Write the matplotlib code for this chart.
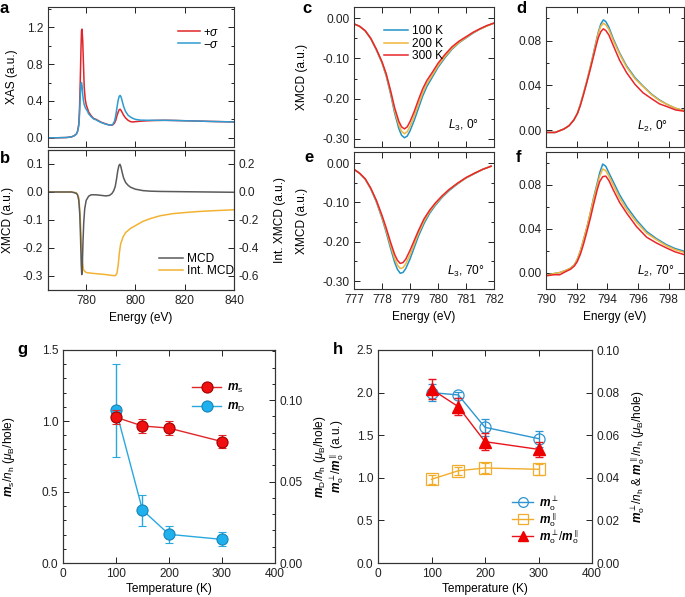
import matplotlib
matplotlib.use("Agg")
import matplotlib.pyplot as plt
from matplotlib.ticker import MultipleLocator, FormatStrFormatter
from matplotlib.lines import Line2D

plt.rcParams['font.family'] = ['Liberation Sans', 'DejaVu Sans']
plt.rcParams['mathtext.fontset'] = 'custom'
plt.rcParams['mathtext.rm'] = 'Liberation Sans'
plt.rcParams['mathtext.it'] = 'Liberation Sans:italic'
plt.rcParams['mathtext.bf'] = 'Liberation Sans:bold'
plt.rcParams['mathtext.bfit'] = 'Liberation Sans:italic:bold'
plt.rcParams['axes.unicode_minus'] = True

# ---------------- data ----------------
# panel a: XAS
E_a = [764.5, 768, 772, 774, 775, 776, 776.5, 777, 777.3, 777.6, 777.9, 778.1, 778.3, 778.6,
       778.9, 779.2, 779.6, 780, 780.5, 781, 782, 783, 784, 785, 786, 787, 788, 789, 790,
       790.8, 791.5, 792, 792.5, 793, 793.4, 793.8, 794.2, 794.7, 795.2, 796, 797, 798, 799,
       800, 802, 805, 808, 812, 816, 820, 825, 830, 835, 840]
xas_plus = [0.0, 0.0, 0.003, 0.01, 0.02, 0.04, 0.07, 0.15, 0.32, 0.62, 0.98, 1.16, 1.18, 1.05,
            0.80, 0.55, 0.42, 0.36, 0.32, 0.28, 0.24, 0.21, 0.20, 0.185, 0.17, 0.16, 0.15, 0.142, 0.137,
            0.14, 0.16, 0.19, 0.24, 0.28, 0.305, 0.31, 0.295, 0.27, 0.245, 0.215, 0.19, 0.175, 0.172,
            0.175, 0.18, 0.185, 0.188, 0.19, 0.188, 0.185, 0.182, 0.178, 0.175, 0.172]
xas_minus = [0.0, 0.0, 0.003, 0.01, 0.02, 0.04, 0.07, 0.13, 0.25, 0.45, 0.59, 0.60, 0.57, 0.47,
             0.40, 0.36, 0.33, 0.31, 0.29, 0.26, 0.23, 0.205, 0.195, 0.18, 0.167, 0.157, 0.148, 0.141, 0.137,
             0.145, 0.18, 0.24, 0.33, 0.41, 0.45, 0.46, 0.44, 0.39, 0.34, 0.285, 0.245, 0.225, 0.21,
             0.20, 0.192, 0.19, 0.19, 0.19, 0.188, 0.185, 0.182, 0.178, 0.175, 0.172]

# panel b: XMCD and integrated XMCD
E_b = [764.5, 770, 774, 775, 776, 776.5, 777, 777.4, 777.7, 778.0, 778.2, 778.4, 778.7, 779.0,
       779.4, 780, 781, 782, 784, 786, 788, 789.5, 790.5, 791.2, 791.8, 792.3, 792.8, 793.3,
       793.7, 794.1, 794.6, 795.2, 796, 797, 798, 800, 803, 806, 810, 820, 830, 840]
mcd = [0.0, 0.0, 0.0, -0.002, -0.005, -0.01, -0.03, -0.08, -0.16, -0.26, -0.295, -0.27, -0.18, -0.11,
       -0.06, -0.03, -0.015, -0.01, -0.01, -0.012, -0.014, -0.012, -0.005, 0.005, 0.02, 0.045, 0.075, 0.095,
       0.099, 0.09, 0.07, 0.05, 0.034, 0.024, 0.017, 0.01, 0.005, 0.003, 0.002, 0.001, 0.0, -0.001]
E_int = [764.5, 770, 774, 776, 777, 777.5, 778, 778.5, 779, 780, 782, 785, 788, 790, 791.5, 792,
         792.5, 793, 793.5, 794, 795, 796, 798, 800, 803, 806, 810, 815, 820, 825, 830, 840]
int_mcd = [0.0, 0.0, 0.0, -0.005, -0.04, -0.15, -0.35, -0.50, -0.56, -0.575, -0.58, -0.585, -0.59,
           -0.595, -0.598, -0.595, -0.58, -0.52, -0.43, -0.37, -0.32, -0.29, -0.26, -0.24, -0.21,
           -0.19, -0.17, -0.155, -0.147, -0.14, -0.135, -0.127]

temps_spec = ['100 K', '200 K', '300 K']

# panel c: L3, 0 deg
E_c = [777.0, 777.2, 777.4, 777.6, 777.8, 778.0, 778.15, 778.3, 778.45, 778.6, 778.7, 778.8,
       778.9, 779.0, 779.15, 779.3, 779.45, 779.6, 779.8, 780.0, 780.25, 780.5, 780.75, 781.0,
       781.25, 781.5, 781.75, 782.0]
c_100 = [-0.014, -0.020, -0.031, -0.051, -0.079, -0.111, -0.143, -0.186, -0.235, -0.274, -0.291,
         -0.297, -0.293, -0.280, -0.254, -0.224, -0.194, -0.170, -0.146, -0.122, -0.098, -0.077,
         -0.061, -0.049, -0.037, -0.027, -0.019, -0.012]
c_200 = [-0.014, -0.020, -0.031, -0.050, -0.078, -0.110, -0.141, -0.182, -0.229, -0.265, -0.281,
         -0.287, -0.282, -0.269, -0.243, -0.214, -0.186, -0.163, -0.141, -0.118, -0.095, -0.075,
         -0.060, -0.048, -0.036, -0.027, -0.019, -0.012]
c_300 = [-0.014, -0.020, -0.031, -0.050, -0.077, -0.108, -0.138, -0.178, -0.222, -0.256, -0.270,
         -0.275, -0.270, -0.257, -0.232, -0.203, -0.176, -0.155, -0.134, -0.112, -0.090, -0.071,
         -0.057, -0.046, -0.035, -0.026, -0.018, -0.012]

# panel e: L3, 70 deg
E_e = [777.0, 777.2, 777.4, 777.6, 777.8, 778.0, 778.15, 778.3, 778.45, 778.55, 778.65, 778.75,
       778.85, 779.0, 779.15, 779.3, 779.5, 779.7, 779.9, 780.15, 780.4, 780.7, 781.0, 781.3,
       781.6, 781.9]
e_100 = [-0.016, -0.026, -0.041, -0.066, -0.099, -0.140, -0.176, -0.215, -0.252, -0.270, -0.280,
         -0.278, -0.268, -0.244, -0.215, -0.186, -0.154, -0.128, -0.108, -0.087, -0.070, -0.053,
         -0.038, -0.027, -0.016, -0.008]
e_200 = [-0.016, -0.026, -0.041, -0.065, -0.097, -0.137, -0.171, -0.208, -0.243, -0.259, -0.268,
         -0.266, -0.256, -0.233, -0.206, -0.179, -0.148, -0.124, -0.105, -0.085, -0.068, -0.052,
         -0.038, -0.026, -0.016, -0.008]
e_300 = [-0.016, -0.026, -0.040, -0.064, -0.095, -0.133, -0.165, -0.200, -0.232, -0.247, -0.255,
         -0.253, -0.244, -0.222, -0.197, -0.172, -0.142, -0.120, -0.102, -0.083, -0.067, -0.051,
         -0.037, -0.026, -0.016, -0.008]

# panel d: L2, 0 deg
E_d = [790.0, 790.6, 791.16, 791.5, 791.81, 792.05, 792.24, 792.45, 792.67, 792.9, 793.1, 793.28,
       793.42, 793.58, 793.74, 793.9, 794.1, 794.39, 794.8, 795.25, 795.8, 796.32, 796.9, 797.4,
       797.9, 798.47, 799.0]
d_100 = [-0.002, -0.002, 0.001, 0.004, 0.009, 0.015, 0.023, 0.033, 0.044, 0.057, 0.069, 0.080,
         0.088, 0.095, 0.0985, 0.097, 0.092, 0.0815, 0.069, 0.0575, 0.047, 0.0395, 0.032, 0.027,
         0.023, 0.0195, 0.0175]
d_200 = [-0.002, -0.002, 0.001, 0.004, 0.009, 0.015, 0.023, 0.033, 0.044, 0.057, 0.068, 0.079,
         0.087, 0.093, 0.0955, 0.094, 0.090, 0.080, 0.068, 0.0565, 0.046, 0.039, 0.0315, 0.0265,
         0.023, 0.0195, 0.0175]
d_300 = [-0.002, -0.002, 0.001, 0.004, 0.009, 0.015, 0.022, 0.032, 0.043, 0.055, 0.066, 0.076,
         0.083, 0.088, 0.0905, 0.089, 0.085, 0.0755, 0.0625, 0.0515, 0.041, 0.0335, 0.028, 0.0235,
         0.021, 0.018, 0.017]

# panel f: L2, 70 deg
E_f = [790.0, 790.5, 790.9, 791.3, 791.6, 791.85, 792.04, 792.25, 792.47, 792.7, 792.9, 793.1,
       793.33, 793.5, 793.7, 793.9, 794.1, 794.4, 794.8, 795.27, 795.9, 796.56, 797.2, 797.85,
       798.4, 799.0]
f_100 = [-0.0025, -0.001, 0.000, 0.002, 0.004, 0.007, 0.012, 0.020, 0.031, 0.043, 0.055, 0.068,
         0.081, 0.091, 0.099, 0.097, 0.091, 0.0825, 0.071, 0.060, 0.048, 0.0375, 0.031, 0.0255,
         0.022, 0.0195]
f_200 = [-0.0025, -0.001, 0.000, 0.002, 0.004, 0.007, 0.012, 0.020, 0.031, 0.043, 0.055, 0.067,
         0.079, 0.088, 0.0945, 0.093, 0.088, 0.0795, 0.068, 0.0575, 0.046, 0.036, 0.030, 0.0245,
         0.021, 0.0185]
f_300 = [-0.003, -0.002, -0.002, 0.001, 0.003, 0.006, 0.010, 0.017, 0.027, 0.039, 0.050, 0.062,
         0.075, 0.083, 0.0875, 0.088, 0.084, 0.075, 0.064, 0.054, 0.042, 0.0323, 0.027, 0.0225,
         0.019, 0.0164]

# panel g
T = [100, 150, 200, 300]
ms = [1.026, 0.965, 0.950, 0.855]
ms_err = [0.05, 0.05, 0.05, 0.045]
mD = [0.0939, 0.0325, 0.0176, 0.0145]
mD_err = [0.0285, 0.0095, 0.0053, 0.0043]

# panel h
mo_perp = [0.0800, 0.0789, 0.0637, 0.0584]
mo_perp_err = [0.004, 0.0015, 0.0040, 0.0038]
mo_par = [0.0393, 0.0433, 0.0446, 0.0440]
mo_par_err = [0.002, 0.0018, 0.0025, 0.0026]
ratio = [2.04, 1.835, 1.424, 1.334]
ratio_err = [0.12, 0.10, 0.10, 0.09]

# ---------------- styling ----------------
RED = '#e0262a'
BLUE = '#2f9bd0'
C_BLUE = '#2193c6'
C_YEL = '#f0b43c'
C_RED = '#e8262b'
GRAY = '#5a5a5a'
ORANGE = '#f2b233'
FS = 8.6
W, H = 685, 597
fig = plt.figure(figsize=(W / 100, H / 100), dpi=100)


def axbox(x0, y0, x1, y1):
    return fig.add_axes([x0 / W, 1 - y1 / H, (x1 - x0) / W, (y1 - y0) / H])


def style(ax, top=True, right=True):
    ax.tick_params(which='both', direction='in', top=top, right=right, labelsize=FS,
                   width=0.7, colors='#222222')
    ax.tick_params(which='major', length=4)
    ax.tick_params(which='minor', length=2.5)
    for s in ax.spines.values():
        s.set_linewidth(0.8)
        s.set_color('#333333')


def plabel(x, y, t):
    fig.text(x / W, 1 - y / H, t, fontsize=12, fontweight='bold', va='top', ha='left')


# panel a
axa = axbox(48, 7, 234, 147)
axa.plot(E_a, xas_plus, color=RED, lw=1.1, label='+$\\sigma$')
axa.plot(E_a, xas_minus, color=BLUE, lw=1.1, label='−$\\sigma$')
axa.set_xlim(764.5, 840)
axa.set_ylim(-0.1, 1.42)
axa.xaxis.set_major_locator(MultipleLocator(20))
axa.yaxis.set_major_locator(MultipleLocator(0.4))
axa.yaxis.set_minor_locator(MultipleLocator(0.2))
axa.yaxis.set_major_formatter(FormatStrFormatter('%.1f'))
axa.set_xticklabels([])
style(axa)
axa.set_ylabel('XAS (a.u.)', fontsize=FS)
axa.yaxis.set_label_coords(-0.16, 0.5)
axa.legend(loc='upper left', bbox_to_anchor=(0.70, 0.86), frameon=False, fontsize=FS,
           handlelength=1.8, handletextpad=0.3, labelspacing=0.0, borderpad=0, borderaxespad=0)

# panel b
axb = axbox(48, 150, 234, 290)
l1, = axb.plot(E_b, mcd, color=GRAY, lw=1.1, label='MCD')
axb.set_xlim(764.5, 840)
axb.set_ylim(-0.35, 0.15)
axb.xaxis.set_major_locator(MultipleLocator(20))
axb.yaxis.set_major_locator(MultipleLocator(0.1))
axb.yaxis.set_major_formatter(FormatStrFormatter('%.1f'))
style(axb, right=False)
axb.set_ylabel('XMCD (a.u.)', fontsize=FS)
axb.yaxis.set_label_coords(-0.185, 0.5)
axb.set_xlabel('Energy (eV)', fontsize=FS, labelpad=4)
axb2 = axb.twinx()
l2, = axb2.plot(E_int, int_mcd, color=ORANGE, lw=1.1, label='Int. MCD')
axb2.set_ylim(-0.7, 0.3)
axb2.yaxis.set_major_locator(MultipleLocator(0.2))
axb2.yaxis.set_major_formatter(FormatStrFormatter('%.1f'))
style(axb2, top=False, right=True)
axb2.tick_params(left=False)
axb2.set_ylabel('Int. XMCD (a.u.)', fontsize=FS)
axb2.yaxis.set_label_coords(1.215, 0.5)
axb.set_zorder(axb2.get_zorder() + 1)
axb.patch.set_visible(False)
axb.legend(handles=[l1, l2], loc='upper left', bbox_to_anchor=(0.597, 0.265), frameon=False,
           fontsize=FS, handlelength=2.0, handletextpad=0.3, labelspacing=0.05, borderpad=0,
           borderaxespad=0)


# panels c, e
def l3panel(box, Es, ys, txt, txy, xlabels, legend=False):
    ax = axbox(*box)
    for y, c, lab in zip(ys, [C_BLUE, C_YEL, C_RED], temps_spec):
        ax.plot(Es, y, color=c, lw=1.1, label=lab)
    ax.set_xlim(777, 782)
    ax.set_ylim(-0.32, 0.028)
    ax.xaxis.set_major_locator(MultipleLocator(1))
    ax.yaxis.set_major_locator(MultipleLocator(0.1))
    ax.yaxis.set_minor_locator(MultipleLocator(0.05))
    ax.yaxis.set_major_formatter(FormatStrFormatter('%.2f'))
    style(ax)
    ax.set_ylabel('XMCD (a.u.)', fontsize=FS)
    ax.yaxis.set_label_coords(-0.33, 0.5)
    if xlabels:
        ax.set_xlabel('Energy (eV)', fontsize=FS, labelpad=4)
    else:
        ax.set_xticklabels([])
    ax.text(txy[0], txy[1], txt, transform=ax.transAxes, fontsize=FS, ha='right', va='center')
    if legend:
        ax.legend(loc='upper left', bbox_to_anchor=(0.215, 0.87), frameon=False, fontsize=FS,
                  handlelength=2.0, handletextpad=0.3, labelspacing=0.05, borderpad=0,
                  borderaxespad=0)
    return ax


l3panel((354, 7, 494, 147), E_c, [c_100, c_200, c_300], '$L_3$, 0°', (0.89, 0.155), False, legend=True)
l3panel((354, 152, 494, 289), E_e, [e_100, e_200, e_300], '$L_3$, 70°', (0.93, 0.125), True)


def l2panel(box, Es, ys, txt, txy, xlabels):
    ax = axbox(*box)
    for y, c in zip(ys, [C_BLUE, C_YEL, C_RED]):
        ax.plot(Es, y, color=c, lw=1.1)
    ax.set_xlim(790, 799)
    ax.set_ylim(-0.015, 0.11)
    ax.xaxis.set_major_locator(MultipleLocator(2))
    ax.yaxis.set_major_locator(MultipleLocator(0.04))
    ax.yaxis.set_minor_locator(MultipleLocator(0.02))
    ax.yaxis.set_major_formatter(FormatStrFormatter('%.2f'))
    style(ax)
    if xlabels:
        ax.set_xlabel('Energy (eV)', fontsize=FS, labelpad=4)
    else:
        ax.set_xticklabels([])
    ax.text(txy[0], txy[1], txt, transform=ax.transAxes, fontsize=FS, ha='right', va='center')
    return ax


l2panel((546, 7, 684, 147), E_d, [d_100, d_200, d_300], '$L_2$, 0°', (0.88, 0.145), False)
l2panel((546, 152, 684, 289), E_f, [f_100, f_200, f_300], '$L_2$, 70°', (0.93, 0.125), True)

# panel g
axg = axbox(63, 350, 275, 563)
axg2 = axg.twinx()
axg.errorbar(T, ms, yerr=ms_err, color=RED, marker='o', ms=8, mfc='#f01010',
             mec='#a00000', mew=0.8, lw=1.0, capsize=3, elinewidth=1.0)
axg2.errorbar(T, mD, yerr=mD_err, color='#29a8e0', marker='o', ms=8, mfc='#1fb0ee',
              mec='#1a84b8', mew=0.8, lw=1.0, capsize=3, elinewidth=1.0)
hg1 = Line2D([], [], color=RED, marker='o', ms=8, mfc='#f01010', mec='#a00000', mew=0.8, lw=1.0)
hg2 = Line2D([], [], color='#29a8e0', marker='o', ms=8, mfc='#1fb0ee', mec='#1a84b8', mew=0.8, lw=1.0)
axg.set_xlim(0, 400)
axg.set_ylim(0, 1.5)
axg2.set_ylim(0, 0.1308)
axg.xaxis.set_major_locator(MultipleLocator(100))
axg.yaxis.set_major_locator(MultipleLocator(0.5))
axg.yaxis.set_minor_locator(MultipleLocator(0.1))
axg.yaxis.set_major_formatter(FormatStrFormatter('%.1f'))
axg2.yaxis.set_major_locator(MultipleLocator(0.05))
axg2.yaxis.set_minor_locator(MultipleLocator(0.01))
axg2.yaxis.set_major_formatter(FormatStrFormatter('%.2f'))
style(axg, right=False)
style(axg2, top=False)
axg2.tick_params(which='both', left=False)
axg.set_zorder(axg2.get_zorder() + 1)
axg.patch.set_visible(False)
axg.set_xlabel('Temperature (K)', fontsize=FS, labelpad=2)
axg.set_ylabel('$\\mathbfit{m}_\\mathrm{s}/n_\\mathrm{h}$ ($\\mu_\\mathrm{B}$/hole)', fontsize=FS)
axg.yaxis.set_label_coords(-0.215, 0.5)
axg2.set_ylabel('$\\mathbfit{m}_\\mathrm{D}/n_\\mathrm{h}$ ($\\mu_\\mathrm{B}$/hole)', fontsize=FS)
axg2.yaxis.set_label_coords(1.175, 0.5)
axg.legend(handles=[hg1, hg2], labels=['$\\mathbfit{m}_\\mathrm{s}$', '$\\mathbfit{m}_\\mathrm{D}$'],
           loc='upper left', bbox_to_anchor=(0.61, 0.85),
           frameon=False, fontsize=FS, handlelength=2.4, handletextpad=0.5, labelspacing=0.5,
           borderpad=0, borderaxespad=0, numpoints=1)

# panel h
axh = axbox(378, 350, 592, 563)
axh2 = axh.twinx()
axh2.errorbar(T, mo_perp, yerr=mo_perp_err, color='#2e95d0', marker='o', ms=8, mfc='none',
              mec='#2e95d0', mew=0.9, lw=1.0, capsize=3, elinewidth=1.0)
axh2.errorbar(T, mo_par, yerr=mo_par_err, color='#f2ac2c', marker='s', ms=8, mfc='none',
              mec='#f2ac2c', mew=0.9, lw=1.0, capsize=3, elinewidth=1.0)
axh.errorbar(T, ratio, yerr=ratio_err, color='#e8141c', marker='^', ms=8, mfc='#ee0000',
             mec='#ee0000', lw=1.0, capsize=3, elinewidth=1.0)
hh1 = Line2D([], [], color='#2e95d0', marker='o', ms=7, mfc='none', mec='#2e95d0', mew=0.9, lw=1.0)
hh2 = Line2D([], [], color='#f2ac2c', marker='s', ms=7, mfc='none', mec='#f2ac2c', mew=0.9, lw=1.0)
hh3 = Line2D([], [], color='#e8141c', marker='^', ms=7, mfc='#ee0000', mec='#ee0000', lw=1.0)
axh.set_xlim(0, 400)
axh.set_ylim(0, 2.5)
axh2.set_ylim(0, 0.10)
axh.xaxis.set_major_locator(MultipleLocator(100))
axh.yaxis.set_major_locator(MultipleLocator(0.5))
axh.yaxis.set_major_formatter(FormatStrFormatter('%.1f'))
axh2.yaxis.set_major_locator(MultipleLocator(0.02))
axh2.yaxis.set_major_formatter(FormatStrFormatter('%.2f'))
style(axh, right=False)
style(axh2, top=False)
axh2.tick_params(which='both', left=False)
axh.set_zorder(axh2.get_zorder() + 1)
axh.patch.set_visible(False)
axh.set_xlabel('Temperature (K)', fontsize=FS, labelpad=2)
axh.set_ylabel('$\\mathbfit{m}_\\mathrm{o}^{\\perp}/\\mathbfit{m}_\\mathrm{o}^{\\parallel}$ (a.u.)', fontsize=FS)
axh.yaxis.set_label_coords(-0.15, 0.5)
axh2.set_ylabel('$\\mathbfit{m}_\\mathrm{o}^{\\perp}/n_\\mathrm{h}$ & $\\mathbfit{m}_\\mathrm{o}^{\\parallel}/n_\\mathrm{h}$ ($\\mu_\\mathrm{B}$/hole)', fontsize=FS)
axh2.yaxis.set_label_coords(1.17, 0.5)
axh.legend(handles=[hh1, hh2, hh3],
           labels=['$\\mathbfit{m}_\\mathrm{o}^{\\perp}$', '$\\mathbfit{m}_\\mathrm{o}^{\\parallel}$',
                   '$\\mathbfit{m}_\\mathrm{o}^{\\perp}/\\mathbfit{m}_\\mathrm{o}^{\\parallel}$'],
           loc='upper left', bbox_to_anchor=(0.625, 0.325),
           frameon=False, fontsize=FS, handlelength=1.8, handletextpad=0.5, labelspacing=-0.15,
           borderpad=0, borderaxespad=0, numpoints=1)

# panel letters
plabel(0, 1, 'a')
plabel(0, 151, 'b')
plabel(302, 1, 'c')
plabel(516, 1, 'd')
plabel(304, 150, 'e')
plabel(516, 150, 'f')
plabel(17, 342, 'g')
plabel(333, 342, 'h')

fig.savefig('out.png', dpi=100)
